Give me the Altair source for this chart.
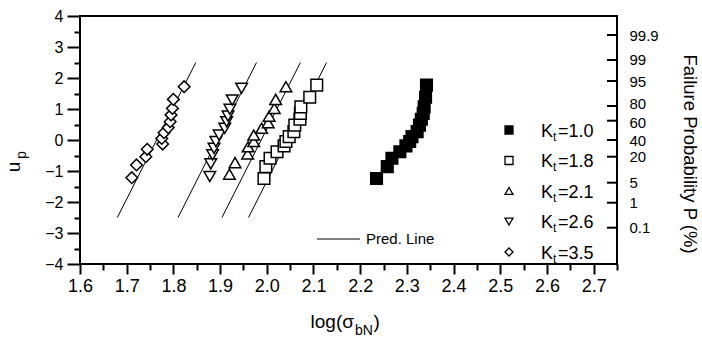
import altair as alt
import pandas as pd

# ---------------- data ----------------
series_names = ["1.0", "1.8", "2.1", "2.6", "3.5"]

kt10_x = [2.235, 2.258, 2.268, 2.285, 2.298, 2.306, 2.311, 2.322, 2.327, 2.331, 2.335, 2.337, 2.340, 2.342]
kt10_u = [-1.24, -0.86, -0.59, -0.38, -0.19, -0.05, 0.11, 0.27, 0.48, 0.67, 0.86, 1.07, 1.38, 1.77]

kt18_x = [1.994, 1.998, 2.007, 2.022, 2.037, 2.041, 2.048, 2.058, 2.060, 2.071, 2.072, 2.073, 2.092, 2.107]
kt18_u = [-1.24, -0.86, -0.59, -0.38, -0.19, -0.05, 0.11, 0.27, 0.48, 0.67, 0.86, 1.07, 1.38, 1.77]

kt21_x = [1.920, 1.932, 1.959, 1.960, 1.972, 1.972, 1.989, 2.003, 2.005, 2.016, 2.019, 2.041]
kt21_u = [-1.10, -0.73, -0.45, -0.22, -0.05, 0.16, 0.38, 0.56, 0.77, 1.02, 1.31, 1.72]

kt26_x = [1.878, 1.880, 1.884, 1.887, 1.891, 1.898, 1.910, 1.914, 1.917, 1.921, 1.926, 1.946]
kt26_u = [-1.18, -0.77, -0.48, -0.27, -0.05, 0.16, 0.38, 0.59, 0.77, 0.99, 1.29, 1.67]

kt35_x = [1.711, 1.721, 1.741, 1.744, 1.777, 1.775, 1.780, 1.789, 1.793, 1.795, 1.798, 1.800, 1.823]
kt35_u = [-1.215, -0.806, -0.538, -0.30, -0.13, 0.05, 0.235, 0.40, 0.59, 0.81, 1.02, 1.31, 1.72]

# predicted lines (Kt = 1.8, 2.1, 2.6, 3.5), u from -2.5 to 2.5
line_series = ["1.8", "2.1", "2.6", "3.5"]
line_x_start = [1.961, 1.904, 1.810, 1.680]
line_x_end = [2.128, 2.072, 1.978, 1.848]
line_u_start = -2.5
line_u_end = 2.5

x_major_ticks = [1.6, 1.7, 1.8, 1.9, 2.0, 2.1, 2.2, 2.3, 2.4, 2.5, 2.6, 2.7]
x_minor_ticks = [1.65, 1.75, 1.85, 1.95, 2.05, 2.15, 2.25, 2.35, 2.45, 2.55, 2.65, 2.75]
y_major_ticks = [-4, -3, -2, -1, 0, 1, 2, 3, 4]
y_minor_ticks = [-3.5, -2.5, -1.5, -0.5, 0.5, 1.5, 2.5, 3.5]

prob_labels = ["99.9", "99", "95", "80", "60", "40", "20", "5", "1", "0.1"]
prob_tick_u = [3.387, 2.581, 1.903, 1.097, 0.623, 0.0, -0.539, -1.377, -2.023, -2.829]

# ---------------- tables ----------------
xs_all = [kt10_x, kt18_x, kt21_x, kt26_x, kt35_x]
us_all = [kt10_u, kt18_u, kt21_u, kt26_u, kt35_u]
rows = []
for name, xs, us in zip(series_names, xs_all, us_all):
    for xv, uv in zip(xs, us):
        rows.append({"s": name, "x": xv, "u": uv})
pts = pd.DataFrame(rows)

lrows = []
for name, x0, x1 in zip(line_series, line_x_start, line_x_end):
    lrows.append({"s": name, "x": x0, "u": line_u_start})
    lrows.append({"s": name, "x": x1, "u": line_u_end})
lines_df = pd.DataFrame(lrows)

prob_df = pd.DataFrame({"u": prob_tick_u, "lab": prob_labels})

shape_range = ["square", "square", "triangle-up", "triangle-down", "diamond"]
fill_range = ["black", "white", "white", "white", "white"]

W, H = 537, 248
FONT = "Liberation Sans"

xscale = alt.Scale(domain=[1.6, 2.75], nice=False, zero=False)
yscale = alt.Scale(domain=[-4, 4], nice=False, zero=False)

one = pd.DataFrame({"a": [0]})

# ---------------- layers ----------------
lines = alt.Chart(lines_df).mark_line(color="black", strokeWidth=1).encode(
    x=alt.X("x:Q", scale=xscale, axis=alt.Axis(orient="bottom", values=x_minor_ticks, labels=False,
                                                 title=None, domain=False, grid=False,
                                                 tickSize=6, tickWidth=2, tickColor="black")),
    y=alt.Y("u:Q", scale=yscale, axis=alt.Axis(orient="left", values=y_minor_ticks, labels=False,
                                                title=None, domain=False, grid=False,
                                                tickSize=6, tickWidth=2, tickColor="black")),
    detail="s:N",
)

points = alt.Chart(pts).mark_point(filled=True, size=135, opacity=1, strokeWidth=1.5).encode(
    x=alt.X("x:Q", scale=xscale, axis=alt.Axis(orient="bottom", values=x_major_ticks, format=".1f",
                                                 title=None, domain=False, grid=False,
                                                 tickSize=10, tickWidth=2, tickColor="black",
                                                 labelFont=FONT, labelFontSize=18, labelColor="black",
                                                 labelPadding=3, labelFlush=False)),
    y=alt.Y("u:Q", scale=yscale, axis=alt.Axis(orient="left", values=y_major_ticks, format="d",
                                                title=None, domain=False, grid=False,
                                                tickSize=13, tickWidth=2, tickColor="black",
                                                labelFont=FONT, labelFontSize=16, labelColor="black",
                                                labelPadding=4, labelFlush=False)),
    shape=alt.Shape("s:N", scale=alt.Scale(domain=series_names, range=shape_range), legend=None),
    fill=alt.Fill("s:N", scale=alt.Scale(domain=series_names, range=fill_range), legend=None),
    stroke=alt.value("black"),
)

label_expr = " : ".join(
    f"abs(datum.value - ({u})) < 0.001 ? '{lab}'" for u, lab in zip(prob_tick_u, prob_labels)
) + " : ''"
# small nudges so the crowded 80 / 60 labels do not collide
offset_expr = (f"abs(datum.value - ({prob_tick_u[3]})) < 0.001 ? -2 : "
               f"(abs(datum.value - ({prob_tick_u[4]})) < 0.001 ? 1.5 : 0)")

right_ticks = alt.Chart(prob_df).mark_rule(color="black", strokeWidth=2).encode(
    y=alt.Y("u:Q", scale=yscale, axis=alt.Axis(orient="right", values=prob_tick_u, labelExpr=label_expr,
                                                title=None, domain=False, grid=False, ticks=False,
                                                labelFont=FONT, labelFontSize=15, labelColor="black",
                                                labelPadding=12, labelAlign="left",
                                                labelOffset=alt.ExprRef(expr=offset_expr),
                                                labelOverlap=False, labelFlush=False)),
    x=alt.value(W - 10),
    x2=alt.value(W),
)

layers = [lines, points, right_ticks]

# legend of series (manual, with subscript t)
leg_x_sym = 429
leg_x_text = 461
leg_y0 = 114
leg_dy = 30.5
for i, name in enumerate(series_names):
    yc = leg_y0 + leg_dy * i
    layers.append(alt.Chart(one).mark_point(filled=True, size=64, opacity=1, strokeWidth=1.3).encode(
        x=alt.value(leg_x_sym), y=alt.value(yc), shape=alt.value(shape_range[i]),
        fill=alt.value(fill_range[i]), stroke=alt.value("black")))
    layers.append(alt.Chart(one).mark_text(font=FONT, fontSize=18, align="left", baseline="alphabetic",
                                           color="black").encode(
        x=alt.value(leg_x_text), y=alt.value(yc + 6.5), text=alt.value("K")))
    layers.append(alt.Chart(one).mark_text(font=FONT, fontSize=12, align="left", baseline="alphabetic",
                                           color="black").encode(
        x=alt.value(leg_x_text + 12.0), y=alt.value(yc + 10.5), text=alt.value("t")))
    layers.append(alt.Chart(one).mark_text(font=FONT, fontSize=18, align="left", baseline="alphabetic",
                                           color="black").encode(
        x=alt.value(leg_x_text + 17.0), y=alt.value(yc + 6.5), text=alt.value("=" + name)))

# Pred. Line legend
layers.append(alt.Chart(one).mark_rule(color="black", strokeWidth=1).encode(
    x=alt.value(237), x2=alt.value(280), y=alt.value(223)))
layers.append(alt.Chart(one).mark_text(font=FONT, fontSize=15, align="left", baseline="middle",
                                       color="black").encode(
    x=alt.value(286), y=alt.value(223), text=alt.value("Pred. Line")))

# x title: log(σ_bN)
layers.append(alt.Chart(one).mark_text(font=FONT, fontSize=19, align="right", baseline="alphabetic",
                                       color="black").encode(
    x=alt.value(274), y=alt.value(312), text=alt.value("log(σ")))
layers.append(alt.Chart(one).mark_text(font=FONT, fontSize=14, align="left", baseline="alphabetic",
                                       color="black").encode(
    x=alt.value(275), y=alt.value(319), text=alt.value("bN")))
layers.append(alt.Chart(one).mark_text(font=FONT, fontSize=19, align="left", baseline="alphabetic",
                                       color="black").encode(
    x=alt.value(293.5), y=alt.value(312), text=alt.value(")")))

# y title: u_p
layers.append(alt.Chart(one).mark_text(font=FONT, fontSize=19, align="center", baseline="alphabetic",
                                       angle=270, color="black").encode(
    x=alt.value(-60), y=alt.value(151), text=alt.value("u")))
layers.append(alt.Chart(one).mark_text(font=FONT, fontSize=14, align="center", baseline="alphabetic",
                                       angle=270, color="black").encode(
    x=alt.value(-54), y=alt.value(139), text=alt.value("p")))

# right title
layers.append(alt.Chart(one).mark_text(font=FONT, fontSize=18.5, align="center", baseline="alphabetic",
                                       angle=90, color="black").encode(
    x=alt.value(604), y=alt.value(138), text=alt.value("Failure Probability P (%)")))

chart = alt.layer(*layers).resolve_axis(x="independent", y="independent").properties(
    width=W, height=H,
    autosize=alt.AutoSizeParams(type="none"),
    padding={"left": 80, "top": 16, "right": 85, "bottom": 79},
    background="white",
).configure_view(stroke="black", strokeWidth=2)

chart.save("out.html", embed_options={"renderer": "svg", "actions": False})
